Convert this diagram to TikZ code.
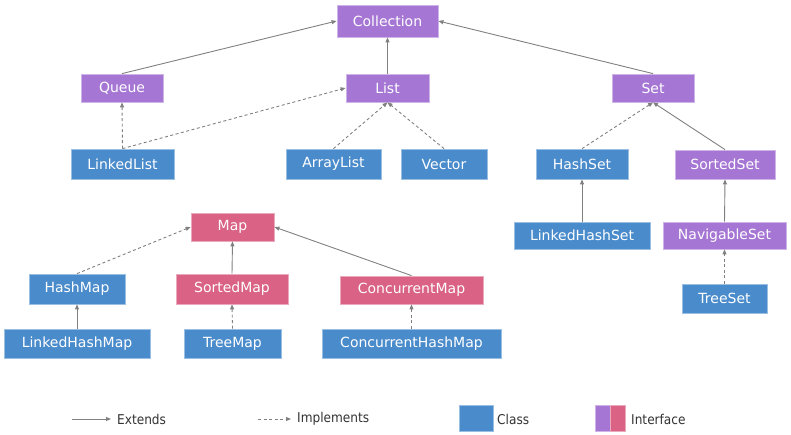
\documentclass[tikz,border=0pt]{standalone}
\usepackage{fontspec}
\setmainfont{DejaVu Sans}
\newfontfamily\legendfont{DejaVu Sans Condensed}
\usetikzlibrary{arrows.meta}

\definecolor{ifpurple}{HTML}{A676D4}
\definecolor{ifpink}{HTML}{D96285}
\definecolor{clsblue}{HTML}{4A8BCB}
\definecolor{arrowgray}{HTML}{808080}
\definecolor{legendtext}{HTML}{333333}

\tikzset{
  box/.style={inner sep=0pt, text=white, font=\fontsize{14}{16}\selectfont, line width=0.8pt},
  iface/.style={box, fill=ifpurple, draw=ifpurple!55!white},
  mapface/.style={box, fill=ifpink, draw=ifpink!55!white},
  cls/.style={box, fill=clsblue, draw=clsblue!55!white},
  extends/.style={draw=arrowgray, line width=0.9pt, -{Triangle[length=5pt,width=4pt]}},
  implements/.style={extends, dash pattern=on 3pt off 2.5pt},
  legendlabel/.style={anchor=west, inner sep=0pt, text=legendtext, font=\legendfont\fontsize{13.5}{16}\selectfont},
}

\begin{document}
\begin{tikzpicture}[x=1pt, y=-1pt]
\useasboundingbox (0,0) rectangle (791,434);

% collection side
\node[iface, minimum width=101pt, minimum height=32pt] (coll) at (387.5,21) {Collection};
\node[iface, minimum width=82pt, minimum height=28pt] (queue) at (122,88) {Queue};
\node[iface, minimum width=83pt, minimum height=28pt] (list) at (387.5,88) {List};
\node[iface, minimum width=82pt, minimum height=28pt] (set) at (653,88) {Set};

\node[cls, minimum width=103pt, minimum height=30pt] (linkedlist) at (122.5,164) {LinkedList};
\node[cls, minimum width=95pt, minimum height=30pt] (arraylist) at (333.5,164) {ArrayList};
\node[cls, minimum width=86pt, minimum height=30pt] (vector) at (444,164) {Vector};
\node[cls, minimum width=92pt, minimum height=30pt] (hashset) at (582,164) {HashSet};
\node[iface, minimum width=100pt, minimum height=29pt] (sortedset) at (725,164.5) {SortedSet};

\node[cls, minimum width=136pt, minimum height=27pt] (linkedhashset) at (582,235.5) {LinkedHashSet};
\node[iface, minimum width=123pt, minimum height=27pt] (navigableset) at (724.5,235.5) {NavigableSet};
\node[cls, minimum width=85pt, minimum height=29pt] (treeset) at (724.5,298.5) {TreeSet};

% map side
\node[mapface, minimum width=83pt, minimum height=28pt] (map) at (232.5,227) {Map};
\node[cls, minimum width=96pt, minimum height=30pt] (hashmap) at (77,289) {HashMap};
\node[mapface, minimum width=112pt, minimum height=30pt] (sortedmap) at (232,289) {SortedMap};
\node[mapface, minimum width=143pt, minimum height=28pt] (concmap) at (411.5,290) {ConcurrentMap};

\node[cls, minimum width=146pt, minimum height=29pt] (linkedhashmap) at (77,343.5) {LinkedHashMap};
\node[cls, minimum width=97pt, minimum height=29pt] (treemap) at (232.5,343.5) {TreeMap};
\node[cls, minimum width=179pt, minimum height=29pt] (conchashmap) at (411.5,343.5) {ConcurrentHashMap};

% connectors
\draw[extends] (queue.north) to (coll.west);
\draw[extends] (list.north) to (coll.south);
\draw[extends] (set.north) to (coll.east);
\draw[implements] (linkedlist.north) to (queue.south);
\draw[implements] (linkedlist.north) to (list.west);
\draw[implements] (arraylist.north) to (list.south);
\draw[implements] (vector.north) to (list.south);
\draw[implements] (hashset.north) to (set.south);
\draw[extends] (sortedset.north) to (set.south);
\draw[extends] (linkedhashset.north) to (hashset.south);
\draw[extends] (navigableset.north) to (sortedset.south);
\draw[implements] (treeset.north) to (navigableset.south);

\draw[implements] (hashmap.north) to (map.west);
\draw[extends] (sortedmap.north) to (map.south);
\draw[extends] (concmap.north) to (map.east);
\draw[extends] (linkedhashmap.north) to (hashmap.south);
\draw[implements] (treemap.north) to (sortedmap.south);
\draw[implements] (conchashmap.north) to (concmap.south);

% legend
\coordinate (E1) at (72,419);
\coordinate (E2) at (111,419);
\coordinate (I1) at (258,419);
\coordinate (I2) at (291,419);
\draw[extends] (E1) to (E2);
\node[legendlabel] (extlabel) at (117,419) {Extends};
\draw[implements] (I1) to (I2);
\node[legendlabel] (impllabel) at (297,419) {Implements};
\node[fill=clsblue, draw=clsblue!55!white, line width=0.8pt, minimum width=34pt, minimum height=26pt] (clskey) at (476,418) {};
\node[legendlabel] (clslabel) at (497,419) {Class};
\node[fill=ifpurple, draw=ifpurple!55!white, line width=0.8pt, minimum width=15pt, minimum height=26pt] (ifkeya) at (602.5,418) {};
\node[fill=ifpink, draw=ifpink!55!white, line width=0.8pt, minimum width=15pt, minimum height=26pt] (ifkeyb) at (617.5,418) {};
\node[legendlabel] (iflabel) at (631,419) {Interface};
\end{tikzpicture}
\end{document}
